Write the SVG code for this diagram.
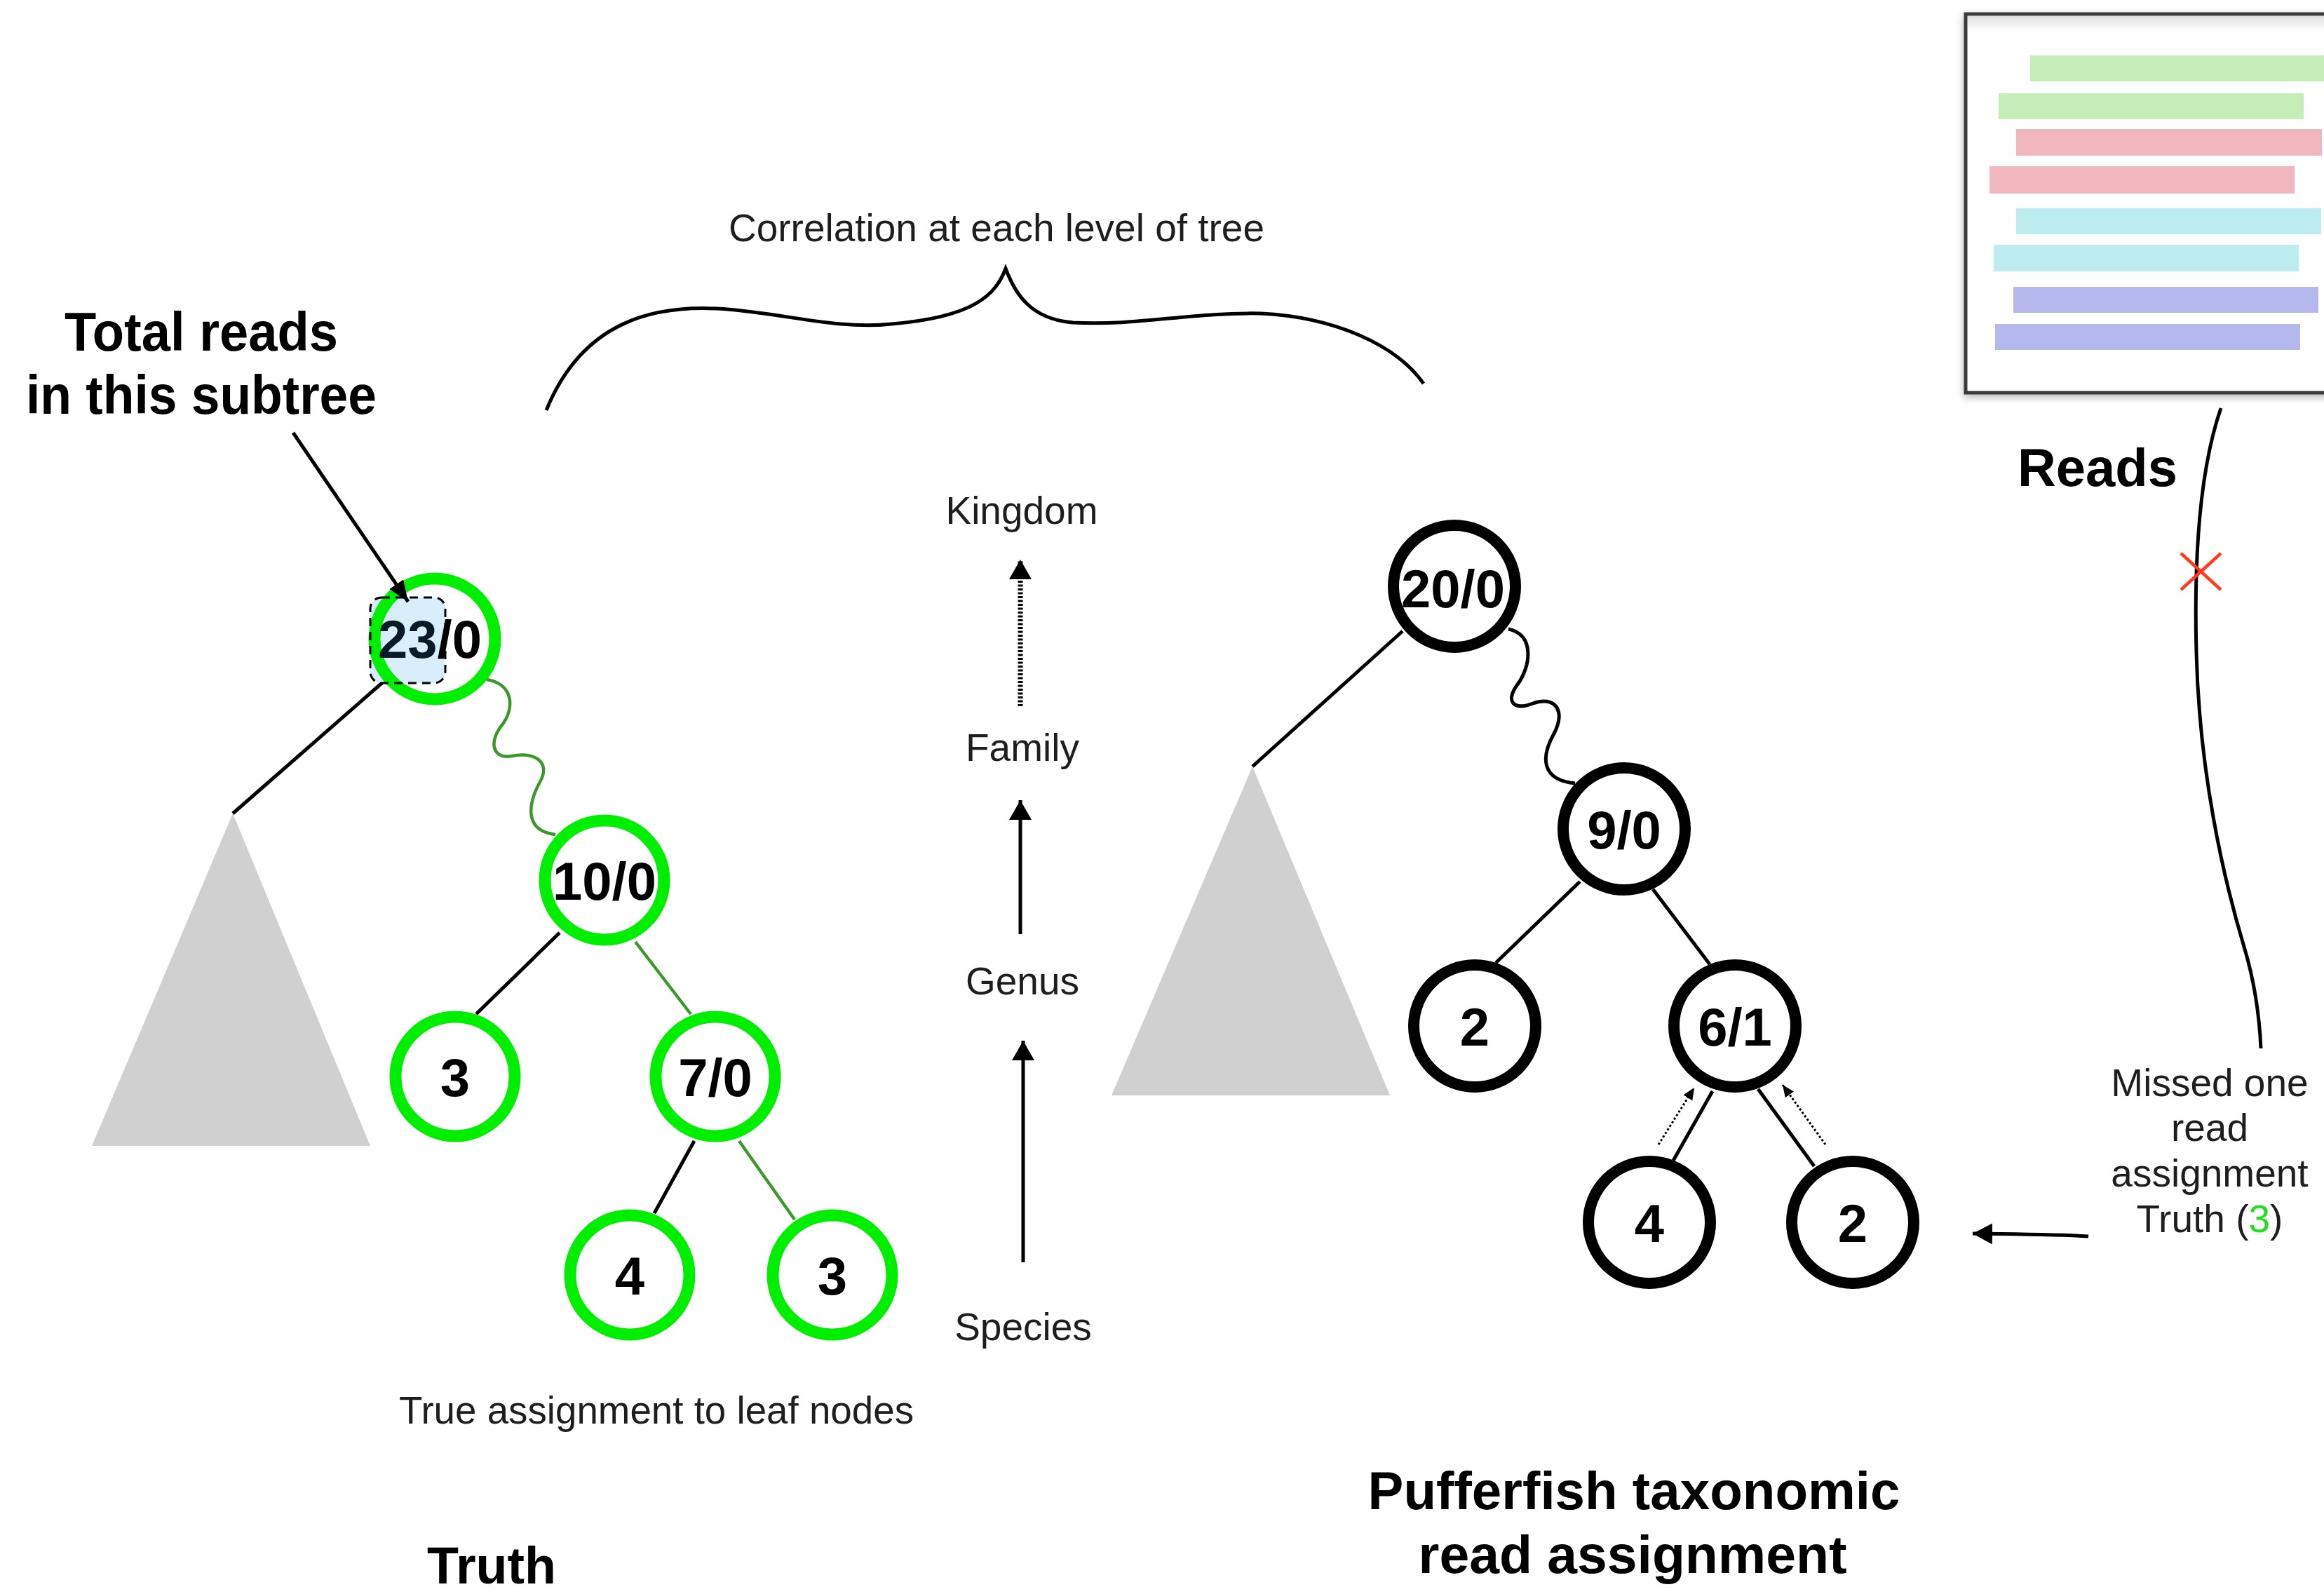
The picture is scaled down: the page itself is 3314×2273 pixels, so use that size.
<svg xmlns="http://www.w3.org/2000/svg" width="3314" height="2273" viewBox="0 0 3314 2273">
  <style>
    .lbl { font-family: "Liberation Sans", Arial, Helvetica, sans-serif; fill: #1e1e1e; font-size: 55px; }
    .head { font-family: "Liberation Sans", Arial, Helvetica, sans-serif; font-weight: bold; fill: #000; }
    .num { font-family: "Liberation Sans", Arial, Helvetica, sans-serif; font-weight: bold; font-size: 76px; fill: #000; text-anchor: middle; }
    .gnode { fill: #fff; stroke: #00ee00; stroke-width: 17; }
    .bnode { fill: #fff; stroke: #000; stroke-width: 16; }
    .edge { stroke: #000; stroke-width: 5; fill: none; }
    .gedge { stroke: #3a9a28; stroke-width: 4.5; fill: none; }
    .subtree { fill: #d0d0d0; }
  </style>
  <defs>
    <marker id="ahMid" markerUnits="userSpaceOnUse" markerWidth="34" markerHeight="34" refX="28" refY="16" orient="auto">
      <path d="M0,0 L28,16 L0,32 z" fill="#000"/>
    </marker>
    <marker id="ahSmall" markerUnits="userSpaceOnUse" markerWidth="20" markerHeight="18" refX="17" refY="7.5" orient="auto">
      <path d="M0,0 L17,7.5 L0,15 z" fill="#000"/>
    </marker>
    <marker id="ahPtr" markerUnits="userSpaceOnUse" markerWidth="34" markerHeight="28" refX="30" refY="12" orient="auto">
      <path d="M0,0 L30,12 L0,24 z" fill="#000"/>
    </marker>
    <marker id="ahWide" markerUnits="userSpaceOnUse" markerWidth="32" markerHeight="32" refX="28" refY="15" orient="auto">
      <path d="M0,0 L28,15 L0,30 z" fill="#000"/>
    </marker>
    <filter id="boxShadow" x="-10%" y="-10%" width="130%" height="130%">
      <feDropShadow dx="0" dy="4" stdDeviation="6" flood-color="#000" flood-opacity="0.3"/>
    </filter>
    <linearGradient id="boxTop" x1="0" y1="0" x2="0" y2="1">
      <stop offset="0" stop-color="#dcdcdc"/>
      <stop offset="1" stop-color="#ffffff" stop-opacity="0"/>
    </linearGradient>
  </defs>

  <rect width="3314" height="2273" fill="#fff"/>

  <!-- captions -->
  <g id="caption-total">
    <text class="head" x="287" y="500" font-size="78" text-anchor="middle" textLength="390" lengthAdjust="spacingAndGlyphs">Total reads</text>
    <text class="head" x="287" y="590" font-size="78" text-anchor="middle" textLength="500" lengthAdjust="spacingAndGlyphs">in this subtree</text>
  </g>
  <text id="caption-correlation" class="lbl" x="1421" y="344" text-anchor="middle" textLength="764" lengthAdjust="spacingAndGlyphs">Correlation at each level of tree</text>
  <text id="caption-leaves" class="lbl" x="936" y="2030" text-anchor="middle" textLength="734" lengthAdjust="spacingAndGlyphs">True assignment to leaf nodes</text>
  <text id="caption-truth" class="head" x="701" y="2258" font-size="74" text-anchor="middle" textLength="184" lengthAdjust="spacingAndGlyphs">Truth</text>
  <g id="caption-pufferfish">
    <text class="head" x="2330" y="2152" font-size="76" text-anchor="middle" textLength="759" lengthAdjust="spacingAndGlyphs">Pufferfish taxonomic</text>
    <text class="head" x="2328" y="2243" font-size="76" text-anchor="middle" textLength="611" lengthAdjust="spacingAndGlyphs">read assignment</text>
  </g>
  <text id="caption-reads" class="head" x="2991" y="693" font-size="76" text-anchor="middle" textLength="228" lengthAdjust="spacingAndGlyphs">Reads</text>
  <g id="caption-missed" class="lbl" text-anchor="middle">
    <text x="3151" y="1563">Missed one</text>
    <text x="3151" y="1627">read</text>
    <text x="3151" y="1692">assignment</text>
    <text x="3151" y="1757">Truth (<tspan fill="#22dd22">3</tspan>)</text>
  </g>

  <!-- taxonomic levels -->
  <g id="levels" class="lbl" text-anchor="middle">
    <text id="lvl-kingdom" x="1457" y="747">Kingdom</text>
    <text id="lvl-family" x="1458" y="1085">Family</text>
    <text id="lvl-genus" x="1458" y="1418">Genus</text>
    <text id="lvl-species" x="1459" y="1911">Species</text>
  </g>

  <!-- reads panel -->
  <g id="reads-panel">
    <rect x="2803" y="20" width="560" height="540" fill="#fff" stroke="#3a3a3a" stroke-width="5" filter="url(#boxShadow)"/>
    <rect x="2806" y="23" width="554" height="30" fill="url(#boxTop)"/>
    <rect x="2895" y="79" width="430" height="37" fill="#c6ecb8"/>
    <rect x="2850" y="133" width="435" height="37" fill="#c6ecb8"/>
    <rect x="2875" y="184" width="436" height="38" fill="#f2b6be"/>
    <rect x="2837" y="237" width="435" height="39" fill="#f2b6be"/>
    <rect x="2875" y="297" width="435" height="37" fill="#bcecf0"/>
    <rect x="2843" y="349" width="435" height="38" fill="#bcecf0"/>
    <rect x="2871" y="409" width="435" height="37" fill="#b4b8ec"/>
    <rect x="2845" y="462" width="435" height="37" fill="#b4b8ec"/>
  </g>

  <!-- subtree placeholders -->
  <polygon id="subtree-left" class="subtree" points="332,1160 131,1634 528,1634"/>
  <polygon id="subtree-right" class="subtree" points="1786,1093 1585,1562 1982,1562"/>

  <!-- connectors -->
  <g id="connectors">
    <!-- brace over both trees -->
    <path class="edge" d="M779,585 C830,460 930,430 1048,442 C1130,450 1200,470 1271,462 C1390,452 1420,420 1434,383 C1448,420 1470,455 1530,460 C1620,465 1700,445 1798,447 C1900,452 1990,490 2030,547"/>

    <!-- level arrows -->
    <line x1="1455" y1="1007" x2="1455" y2="798" stroke="#000" stroke-width="7" stroke-dasharray="3 2.5" marker-end="url(#ahMid)"/>
    <line class="edge" x1="1455" y1="1332" x2="1455" y2="1141" stroke-width="6" marker-end="url(#ahMid)"/>
    <line class="edge" x1="1459" y1="1800" x2="1459" y2="1484" stroke-width="6" marker-end="url(#ahMid)"/>

    <!-- truth tree edges -->
    <line class="edge" x1="548" y1="971" x2="332" y2="1160"/>
    <path class="gedge" d="M694,969 C732,975 735,1010 715,1035 C697,1058 702,1083 730,1078 C762,1072 786,1086 770,1115 C752,1148 748,1185 792,1190"/>
    <line class="edge" x1="798" y1="1330" x2="679" y2="1446"/>
    <line class="gedge" x1="906" y1="1343" x2="985" y2="1446"/>
    <line class="edge" x1="990" y1="1627" x2="933" y2="1730"/>
    <line class="gedge" x1="1054" y1="1627" x2="1133" y2="1739"/>

    <!-- predicted tree edges -->
    <line class="edge" x1="2000" y1="900" x2="1786" y2="1093"/>
    <path class="edge" d="M2151,897 C2190,905 2182,952 2164,976 C2146,1000 2158,1014 2186,1003 C2216,992 2234,1012 2216,1046 C2198,1078 2196,1112 2246,1117"/>
    <line class="edge" x1="2253" y1="1257" x2="2133" y2="1373"/>
    <line class="edge" x1="2357" y1="1268" x2="2438" y2="1375"/>
    <line class="edge" x1="2442" y1="1556" x2="2386" y2="1655"/>
    <line class="edge" x1="2507" y1="1553" x2="2587" y2="1663"/>

    <!-- upward propagation hints -->
    <line x1="2365" y1="1632" x2="2416" y2="1551" stroke="#000" stroke-width="3" stroke-dasharray="3 3" marker-end="url(#ahSmall)"/>
    <line x1="2603" y1="1632" x2="2542" y2="1547" stroke="#000" stroke-width="3" stroke-dasharray="3 3" marker-end="url(#ahSmall)"/>

    <!-- read path and miss pointer -->
    <path class="edge" d="M3167,582 C3140,660 3128,780 3132,930 C3136,1100 3170,1250 3200,1350 C3215,1400 3222,1450 3224,1495"/>
    <path class="edge" d="M2978,1763 C2930,1760 2880,1760 2813,1759" marker-end="url(#ahWide)"/>
  </g>

  <!-- miss marker -->
  <g id="miss-mark" stroke="#ff3a1a" stroke-width="4.5">
    <line x1="3110" y1="789" x2="3167" y2="841"/>
    <line x1="3110" y1="841" x2="3167" y2="789"/>
  </g>

  <!-- truth tree nodes -->
  <g id="t-root">
    <rect x="528" y="852" width="107" height="122" rx="16" fill="#d8eefb"/>
    <circle class="gnode" cx="620" cy="911" r="86" fill-opacity="0"/>
    <text class="num" x="613" y="938"><tspan fill="#0b1a28">23</tspan>/0</text>
    <rect x="528" y="852" width="107" height="122" rx="16" fill="none" stroke="#000" stroke-width="3" stroke-dasharray="12 8"/>
  </g>
  <g id="t-10"><circle class="gnode" cx="862" cy="1255" r="85"/><text class="num" x="862" y="1283">10/0</text></g>
  <g id="t-3a"><circle class="gnode" cx="649" cy="1535" r="85"/><text class="num" x="649" y="1563">3</text></g>
  <g id="t-7"><circle class="gnode" cx="1020" cy="1535" r="85"/><text class="num" x="1020" y="1563">7/0</text></g>
  <g id="t-4"><circle class="gnode" cx="898" cy="1818" r="85"/><text class="num" x="898" y="1846">4</text></g>
  <g id="t-3b"><circle class="gnode" cx="1187" cy="1818" r="85"/><text class="num" x="1187" y="1846">3</text></g>

  <!-- predicted tree nodes -->
  <g id="p-root"><circle class="bnode" cx="2074" cy="836" r="87"/><text class="num" x="2072" y="866">20/0</text></g>
  <g id="p-9"><circle class="bnode" cx="2316" cy="1182" r="87"/><text class="num" x="2316" y="1210">9/0</text></g>
  <g id="p-2a"><circle class="bnode" cx="2103" cy="1463" r="87"/><text class="num" x="2103" y="1491">2</text></g>
  <g id="p-6"><circle class="bnode" cx="2474" cy="1463" r="87"/><text class="num" x="2474" y="1491">6/1</text></g>
  <g id="p-4"><circle class="bnode" cx="2352" cy="1743" r="87"/><text class="num" x="2352" y="1771">4</text></g>
  <g id="p-2b"><circle class="bnode" cx="2642" cy="1743" r="87"/><text class="num" x="2642" y="1771">2</text></g>

  <!-- callout pointer to the root's subtree total, drawn above the node -->
  <g id="callout">
    <line class="edge" x1="418" y1="617" x2="582" y2="858" marker-end="url(#ahPtr)"/>
  </g>
</svg>
